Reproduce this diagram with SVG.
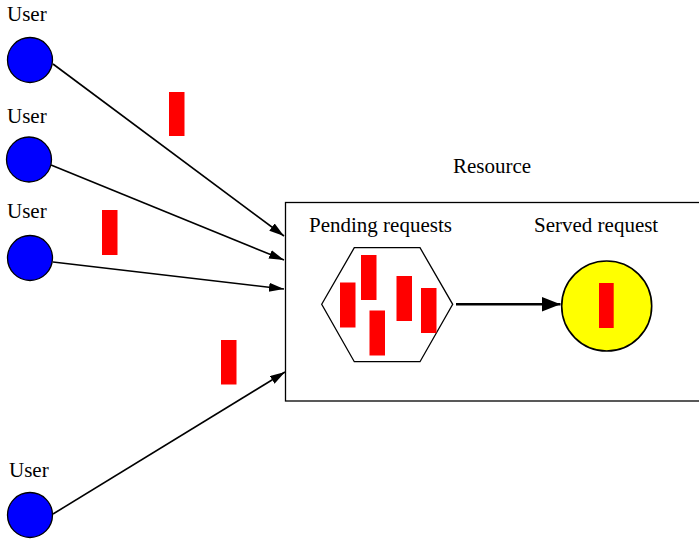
<svg xmlns="http://www.w3.org/2000/svg" width="699" height="539" viewBox="0 0 699 539">
<style>
text{font-family:"Liberation Serif","Times New Roman",serif;font-size:21px;fill:#000}
.user{fill:#0000ff;stroke:#000;stroke-width:1.3}
.req{fill:#ff0000}
.conn{stroke:#000;stroke-width:1.6;fill:none}
</style>
<defs>
<marker id="ah" markerUnits="userSpaceOnUse" markerWidth="16" markerHeight="10" refX="15" refY="4.5" orient="auto">
<path d="M0,0 L15,4.5 L0,9 z" fill="#000"/>
</marker>
<marker id="ahb" markerUnits="userSpaceOnUse" markerWidth="20" markerHeight="16" refX="19" refY="7.5" orient="auto">
<path d="M0,0 L19,7.5 L0,15 z" fill="#000"/>
</marker>
</defs>
<rect width="699" height="539" fill="#fff"/>
<g id="resource">
<rect x="285.5" y="202.5" width="420" height="198.5" fill="none" stroke="#000" stroke-width="1.3"/>
<text x="453" y="173">Resource</text>
</g>
<g id="user1"><circle class="user" cx="30" cy="60" r="22.5"/><text x="7" y="21">User</text></g>
<g id="user2"><circle class="user" cx="29" cy="159.5" r="22.5"/><text x="7" y="123">User</text></g>
<g id="user3"><circle class="user" cx="30" cy="258" r="22.5"/><text x="7" y="218">User</text></g>
<g id="user4"><circle class="user" cx="30" cy="515" r="22.5"/><text x="9" y="477">User</text></g>
<g id="requests-in-transit">
<rect class="req" x="169" y="92" width="15.5" height="44"/>
<rect class="req" x="102" y="210" width="15.5" height="45"/>
<rect class="req" x="221" y="340" width="15.5" height="44.5"/>
</g>
<g id="pending">
<text x="309" y="232">Pending requests</text>
<polygon points="321.7,304.3 354.3,247.7 420,247.7 452.7,304.3 420,361.7 354.3,361.7" fill="#fff" stroke="#000" stroke-width="1.3"/>
<rect class="req" x="340" y="282.5" width="15.5" height="45"/>
<rect class="req" x="361" y="255" width="15.5" height="45"/>
<rect class="req" x="369.5" y="310.5" width="15.5" height="45"/>
<rect class="req" x="396.5" y="276" width="15.5" height="45"/>
<rect class="req" x="421" y="288" width="15.5" height="45"/>
</g>
<g id="served">
<text x="534" y="232">Served request</text>
<circle cx="606.7" cy="306" r="45" fill="#ffff00" stroke="#000" stroke-width="1.6"/>
<rect class="req" x="599" y="283" width="14.7" height="45"/>
</g>
<g id="connectors">
<line class="conn" x1="53" y1="64" x2="284" y2="236" marker-end="url(#ah)"/>
<line class="conn" x1="51" y1="165" x2="284" y2="260" marker-end="url(#ah)"/>
<line class="conn" x1="53" y1="262" x2="284" y2="289" marker-end="url(#ah)"/>
<line class="conn" x1="53" y1="514" x2="285" y2="372" marker-end="url(#ah)"/>
<line x1="456" y1="304.3" x2="560.5" y2="304.3" stroke="#000" stroke-width="2.6" marker-end="url(#ahb)"/>
</g>
</svg>
